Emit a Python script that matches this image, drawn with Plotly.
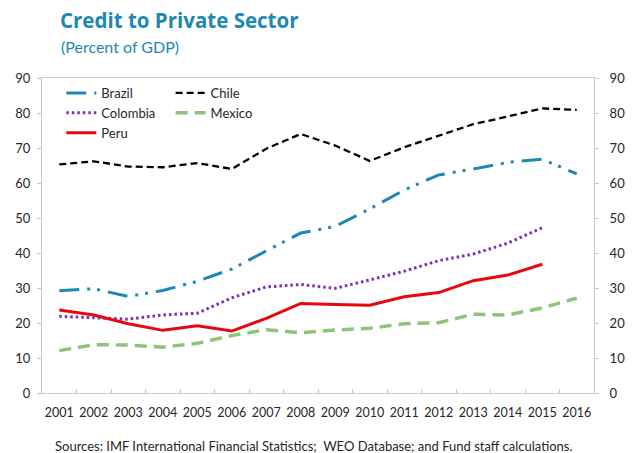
import plotly.graph_objects as go

years = [str(y) for y in range(2001, 2017)]

brazil = [29.2, 29.8, 27.6, 29.3, 31.9, 35.4, 40.6, 45.7, 47.6, 52.6, 58.0, 62.3, 64.0, 65.9, 66.8, 62.6]
chile = [65.3, 66.2, 64.7, 64.5, 65.7, 64.0, 69.8, 74.0, 70.7, 66.3, 70.2, 73.5, 76.8, 79.0, 81.3, 80.9]
colombia = [21.9, 21.5, 21.1, 22.3, 22.8, 27.2, 30.3, 31.0, 29.9, 32.3, 34.8, 37.8, 39.7, 42.8, 47.2]
mexico = [12.1, 13.8, 13.7, 13.1, 14.2, 16.4, 18.1, 17.2, 18.0, 18.5, 19.8, 20.1, 22.5, 22.3, 24.3, 27.1]
peru = [23.7, 22.3, 19.8, 17.9, 19.2, 17.7, 21.3, 25.6, 25.3, 25.1, 27.5, 28.7, 32.1, 33.7, 36.8]

y_ticks = list(range(0, 100, 10))

FONT = "Lato"
TEAL = "#1E88B4"
AXIS_GREY = "#C8C8C8"
TEXT = "#262626"

fig = go.Figure()

series = [
    ("Brazil", brazil, dict(color=TEAL, width=3, dash="20px,8px,3px,7px,3px,8px"), "legend"),
    ("Chile", chile, dict(color="#000000", width=2.3, dash="7px,4px"), "legend2"),
    ("Colombia", colombia, dict(color="#7B2FB5", width=3, dash="2.5px,3px"), "legend"),
    ("Mexico", mexico, dict(color="#8CC47A", width=3.5, dash="12px,7px"), "legend2"),
    ("Peru", peru, dict(color="#E8070F", width=3), "legend"),
]

for name, vals, line, leg in series:
    fig.add_trace(go.Scatter(
        x=years[:len(vals)], y=vals, name=name, mode="lines",
        line=line, legend=leg, hoverinfo="skip",
    ))

# invisible trace so the right-hand value axis is drawn
fig.add_trace(go.Scatter(x=years, y=chile, yaxis="y2", mode="lines",
                         line=dict(width=0, color="rgba(0,0,0,0)"),
                         showlegend=False, hoverinfo="skip"))

axis_common = dict(
    showgrid=False, zeroline=False, showline=True, linecolor=AXIS_GREY,
    linewidth=1, tickcolor=AXIS_GREY, ticklen=4,
    tickfont=dict(family=FONT, size=13, color=TEXT),
)

fig.update_layout(
    width=637, height=453,
    margin=dict(l=42, r=25, t=78, b=60),
    paper_bgcolor="white", plot_bgcolor="white",
    font=dict(family=FONT, color=TEXT),
    xaxis=dict(type="category", categoryorder="array", categoryarray=years,
               range=[-0.5, len(years) - 0.5],
               ticks="inside", tickson="boundaries", mirror=True, tickangle=0,
               ticklabelstandoff=8,
               **{**axis_common, "tickfont": dict(family=FONT, size=12.5, color=TEXT)}),
    yaxis=dict(range=[0, 90], tickvals=y_ticks, ticks="outside", mirror=True,
               ticklabelstandoff=4, **axis_common),
    yaxis2=dict(range=[0, 90], tickvals=y_ticks, ticks="outside", side="right",
                overlaying="y", ticklabelstandoff=8, **axis_common),
    legend=dict(x=0.035, y=1.0, xanchor="left", yanchor="top",
                bgcolor="rgba(0,0,0,0)", font=dict(family=FONT, size=13, color=TEXT),
                tracegroupgap=0),
    legend2=dict(x=0.233, y=1.0, xanchor="left", yanchor="top",
                 bgcolor="rgba(0,0,0,0)", font=dict(family=FONT, size=13, color=TEXT),
                 tracegroupgap=0),
    showlegend=True,
)

fig.add_annotation(text="<b>Credit to Private Sector</b>", xref="paper", yref="paper",
                   x=(59 - 42) / 570, y=1, yshift=78 - 36, xanchor="left", yanchor="bottom",
                   showarrow=False, font=dict(family="Open Sans", size=20.5, color=TEAL))
fig.add_annotation(text="(Percent of GDP)", xref="paper", yref="paper",
                   x=(60 - 42) / 570, y=1, yshift=78 - 58, xanchor="left", yanchor="bottom",
                   showarrow=False, font=dict(family=FONT, size=16, color=TEAL))
fig.add_annotation(text="Sources: IMF International Financial Statistics;  WEO Database; and Fund staff calculations.",
                   xref="paper", yref="paper", x=(323 - 42) / 570, y=0, yshift=-(446 - 393),
                   xanchor="center", yanchor="middle", showarrow=False,
                   font=dict(family=FONT, size=13, color=TEXT))

fig.write_html("out.html")
